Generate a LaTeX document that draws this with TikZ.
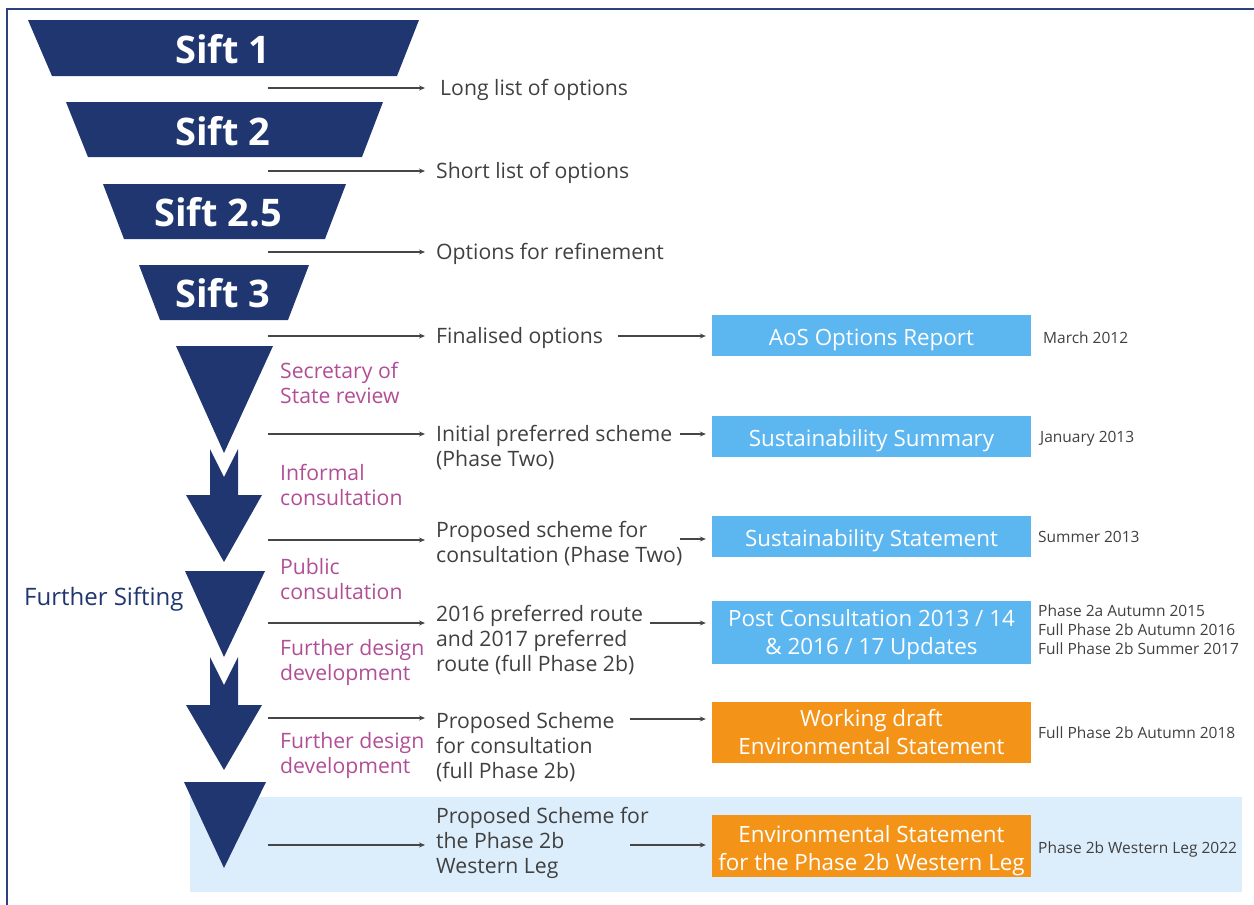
\documentclass[tikz,border=0pt]{standalone}
\usepackage{fontspec}
\setmainfont{Open Sans}
\usetikzlibrary{arrows.meta}
\definecolor{navy}{RGB}{32,54,112}
\definecolor{framecol}{RGB}{45,64,130}
\definecolor{skyblue}{RGB}{92,182,240}
\definecolor{amber}{RGB}{243,148,25}
\definecolor{paleblue}{RGB}{220,237,251}
\definecolor{plum}{RGB}{178,78,150}
\definecolor{ink}{RGB}{64,64,64}
\definecolor{wire}{RGB}{70,70,70}

% strut that lifts the first line of a document box
\newcommand{\liftline}[1]{\rule{0pt}{#1}}

\tikzset{
  conn/.style={draw=wire, line width=1.1pt, -{Stealth[length=6pt,width=5pt]}},
  item/.style={anchor=base west, inner sep=0pt, text=ink, align=left,
    font=\fontsize{21.2}{25.3}\selectfont},
  stage/.style={anchor=base west, inner sep=0pt, text=plum, align=left,
    font=\fontsize{21.2}{25}\selectfont},
  doc/.style={fill=skyblue, text=white, minimum width=319pt, align=center,
    inner sep=0pt, font=\fontsize{22.4}{28}\selectfont},
  when/.style={anchor=base west, inner sep=0pt, text=ink, align=left,
    font=\fontsize{15.5}{19}\selectfont},
  sift/.style={text=white, inner sep=0pt, font=\fontsize{38}{40}\selectfont\bfseries},
  funnel/.style={fill=navy},
}

\begin{document}
\begin{tikzpicture}[x=1pt,y=-1pt]
\useasboundingbox (0,0) rectangle (1254,905);

% outer frame (top and left edges)
\draw[framecol, line width=2pt] (1254,9) -- (7,9) -- (7,905);

% highlighted final stage band
\fill[paleblue] (190,797) rectangle (1242,892);

% sifting funnel
\fill[funnel] (28,20) -- (419,20) -- (397,76) -- (52,76) -- cycle;
\node[sift] (sift1) at (223,49) {Sift 1};
\fill[funnel] (66,102) -- (383,102) -- (362,157) -- (88,157) -- cycle;
\node[sift] (sift2) at (223,131) {Sift 2};
\fill[funnel] (103,184) -- (346,184) -- (325,239) -- (124,239) -- cycle;
\node[sift] (sift25) at (218,212) {Sift 2.5};
\fill[funnel] (139,265) -- (309,265) -- (288,320) -- (160,320) -- cycle;
\node[sift] (sift3) at (223,293) {Sift 3};

% further sifting markers
\fill[funnel] (176,346) -- (273,346) -- (224,453) -- cycle;
\fill[funnel] (210,449) -- (224,477) -- (238,449) -- (238,495) -- (262,495)
  -- (224,562) -- (186,495) -- (210,495) -- cycle;
\fill[funnel] (185,571) -- (265,571) -- (224,657) -- cycle;
\fill[funnel] (210,657) -- (224,685) -- (238,657) -- (238,705) -- (262,705)
  -- (224,770) -- (186,705) -- (210,705) -- cycle;
\fill[funnel] (184,782) -- (266,782) -- (224,868) -- cycle;

\node[anchor=base west, inner sep=0pt, text=navy, font=\fontsize{24}{28}\selectfont]
  (further) at (24,605) {Further Sifting};

% stage labels (anchored on the baseline of the last line)
\node[stage] (sos) at (280,403) {Secretary of\\State review};
\node[stage] (inf) at (280,505) {Informal\\consultation};
\node[stage] (pub) at (280,599) {Public\\consultation};
\node[stage] (fdd1) at (280,680) {Further design\\development};
\node[stage] (fdd2) at (280,773) {Further design\\development};

% outcomes (anchored on the baseline of the last line)
\node[item] (t1) at (440,95) {Long list of options};
\node[item] (t2) at (436,178) {Short list of options};
\node[item] (t3) at (436,259) {Options for refinement};
\node[item] (t4) at (436,343) {Finalised options};
\node[item] (t5) at (436,466.3) {Initial preferred scheme\\(Phase Two)};
\node[item] (t6) at (436,562.3) {Proposed scheme for\\consultation (Phase Two)};
\node[item] (t7) at (436,671.6) {2016 preferred route\\and 2017 preferred\\route (full Phase 2b)};
\node[item] (t8) at (436,778.6) {Proposed Scheme\\for consultation\\(full Phase 2b)};
\node[item] (t9) at (436,873.6) {Proposed Scheme for\\the Phase 2b\\Western Leg};

% documents
\node[doc, minimum height=41pt] (aos) at (871.5,335.5)
  {\liftline{26pt}AoS Options Report};
\node[doc, minimum height=41pt] (ssum) at (871.5,436.5)
  {\liftline{26pt}Sustainability Summary};
\node[doc, minimum height=41pt] (sstat) at (871.5,536.5)
  {\liftline{26pt}Sustainability Statement};
\node[doc, minimum height=63pt] (post) at (871.5,632)
  {\liftline{23pt}Post Consultation 2013 / 14\\\& 2016 / 17 Updates};
\node[doc, fill=amber, minimum height=61pt] (wdes) at (871.5,732.5)
  {Working draft\\Environmental Statement};
\node[doc, fill=amber, minimum height=62pt] (es) at (871.5,846)
  {\liftline{26pt}Environmental Statement\\for the Phase 2b Western Leg};

% dates
\node[when] (d1) at (1043,343) {March 2012};
\node[when] (d2) at (1040,442) {January 2013};
\node[when] (d3) at (1038,542) {Summer 2013};
\node[when] (d4) at (1038,654) {Phase 2a Autumn 2015\\Full Phase 2b Autumn 2016\\Full Phase 2b Summer 2017};
\node[when] (d5) at (1038,738) {Full Phase 2b Autumn 2018};
\node[when] (d6) at (1038,853) {Phase 2b Western Leg 2022};

% connectors from the funnel to the outcomes
\coordinate (l1) at (268,88);
\coordinate (l2) at (268,171);
\coordinate (l3) at (268,252);
\coordinate (l4) at (268,336);
\coordinate (l5) at (268,434);
\coordinate (l6) at (268,540);
\coordinate (l7) at (268,623);
\coordinate (l8) at (268,718);
\coordinate (l9) at (268,845);
\draw[conn, shorten >=15pt] (l1) -- (l1 -| t1.west);
\foreach \k in {2,...,9} {
  \draw[conn, shorten >=11pt] (l\k) -- (l\k -| t\k.west);
}

% connectors from the outcomes to the documents
\coordinate (r4) at (618,336);
\coordinate (r5) at (680,434);
\coordinate (r6) at (680,539);
\coordinate (r7) at (650,623);
\coordinate (r8) at (630,719);
\coordinate (r9) at (630,845);
\draw[conn, shorten >=6pt] (r4) -- (r4 -| aos.west);
\draw[conn, shorten >=6pt] (r5) -- (r5 -| ssum.west);
\draw[conn, shorten >=6pt] (r6) -- (r6 -| sstat.west);
\draw[conn, shorten >=6pt] (r7) -- (r7 -| post.west);
\draw[conn, shorten >=6pt] (r8) -- (r8 -| wdes.west);
\draw[conn, shorten >=6pt] (r9) -- (r9 -| es.west);
\end{tikzpicture}
\end{document}
